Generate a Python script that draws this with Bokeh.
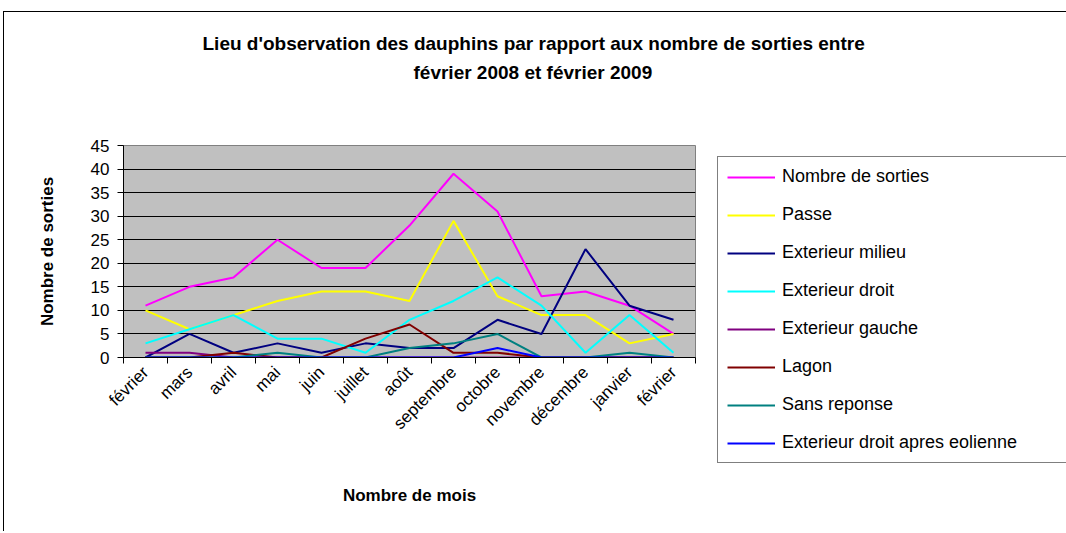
import math
from bokeh.plotting import figure
from bokeh.models import Range1d, FixedTicker, Legend, LegendItem, Title
from bokeh.embed import file_html
from bokeh.resources import INLINE

months = ["février", "mars", "avril", "mai", "juin", "juillet", "août",
          "septembre", "octobre", "novembre", "décembre", "janvier", "février"]
y_ticks = [0, 5, 10, 15, 20, 25, 30, 35, 40, 45]

nombre_sorties = [11, 15, 17, 25, 19, 19, 28, 39, 31, 13, 14, 11, 5]
passe = [10, 6, 9, 12, 14, 14, 12, 29, 13, 9, 9, 3, 5]
exterieur_milieu = [0, 5, 1, 3, 1, 3, 2, 2, 8, 5, 23, 11, 8]
exterieur_droit = [3, 6, 9, 4, 4, 1, 8, 12, 17, 11, 1, 9, 1]
exterieur_gauche = [1, 1, 0, 0, 0, 0, 0, 0, 0, 0, 0, 0, 0]
lagon = [0, 0, 1, 0, 0, 4, 7, 1, 1, 0, 0, 0, 0]
sans_reponse = [0, 0, 0, 1, 0, 0, 2, 3, 5, 0, 0, 1, 0]
exterieur_droit_eolienne = [0, 0, 0, 0, 0, 0, 0, 0, 2, 0, 0, 0, 0]

series = [
    ("Nombre de sorties", nombre_sorties, "#FF00FF"),
    ("Passe", passe, "#FFFF00"),
    ("Exterieur milieu", exterieur_milieu, "#000080"),
    ("Exterieur droit", exterieur_droit, "#00FFFF"),
    ("Exterieur gauche", exterieur_gauche, "#800080"),
    ("Lagon", lagon, "#800000"),
    ("Sans reponse", sans_reponse, "#008080"),
    ("Exterieur droit apres eolienne", exterieur_droit_eolienne, "#0000FF"),
]

FONT = "Liberation Sans"
FW, FH = 572, 212
BL, BT = 123, 145
W, H = 1064, 531

xs = list(range(len(months)))
p = figure(output_backend="svg", toolbar_location=None,
           frame_width=FW, frame_height=FH,
           min_border_left=BL, min_border_top=BT,
           min_border_right=W - BL - FW, min_border_bottom=H - BT - FH,
           x_range=Range1d(-0.5, len(months) - 0.5),
           y_range=Range1d(0, 45),
           background_fill_color="#C0C0C0",
           border_fill_color="white", border_fill_alpha=0,
           outline_line_color="#808080", outline_line_width=1)

# outer chart border (left and top edges) drawn as CSS background lines
p.styles = {
    "background-image": "linear-gradient(#000, #000), linear-gradient(#000, #000)",
    "background-size": "1px 100%, 100% 1px",
    "background-position": "3px 11px, 3px 11px",
    "background-repeat": "no-repeat",
}

p.xgrid.visible = False
p.ygrid.grid_line_color = "black"
p.ygrid.grid_line_width = 1
p.ygrid.ticker = FixedTicker(ticks=y_ticks)

xa = p.xaxis[0]
xa.ticker = FixedTicker(ticks=xs, minor_ticks=[i - 0.5 for i in range(len(months) + 1)])
xa.major_label_overrides = {i: m for i, m in enumerate(months)}
xa.major_label_orientation = math.pi / 4
xa.major_tick_out = 0
xa.major_tick_in = 0
xa.minor_tick_out = 6
xa.minor_tick_in = 0
xa.minor_tick_line_color = "black"
xa.axis_line_color = "black"
xa.major_label_text_font = FONT
xa.major_label_text_font_size = "17px"
xa.major_label_text_color = "black"
xa.major_label_standoff = 6
xa.axis_label = "Nombre de mois"
xa.axis_label_text_font = FONT
xa.axis_label_text_font_size = "17px"
xa.axis_label_text_font_style = "bold"
xa.axis_label_text_color = "black"
xa.axis_label_standoff = 43

ya = p.yaxis[0]
ya.ticker = FixedTicker(ticks=y_ticks)
ya.major_tick_out = 6
ya.major_tick_in = 0
ya.minor_tick_out = 0
ya.minor_tick_in = 0
ya.axis_line_color = "black"
ya.major_label_text_font = FONT
ya.major_label_text_font_size = "17px"
ya.major_label_text_color = "black"
ya.major_label_standoff = 8
ya.axis_label = "Nombre de sorties"
ya.axis_label_text_font = FONT
ya.axis_label_text_font_size = "17px"
ya.axis_label_text_font_style = "bold"
ya.axis_label_text_color = "black"
ya.axis_label_standoff = 31

items = []
for name, vals, color in series:
    r = p.line(xs, vals, line_color=color, line_width=2)
    items.append(LegendItem(label=name, renderers=[r]))

legend = Legend(items=items, location=(22, -106),
                label_text_font=FONT, label_text_font_size="18px",
                label_text_color="black",
                glyph_width=48, glyph_height=20, label_height=20,
                label_width=275,
                label_standoff=7, spacing=17, padding=9, margin=0,
                border_line_color="black", border_line_width=1,
                background_fill_color="white", background_fill_alpha=1)
p.add_layout(legend, "right")

# spacer between plot and title, then title lines (closest to the plot first)
p.add_layout(Title(text=" ", standoff=38, text_font=FONT, text_font_size="19px"), "above")
p.add_layout(Title(text="février 2008 et février 2009", align="left", offset=290,
                   text_font=FONT, text_font_size="19px", text_font_style="bold",
                   text_color="black", standoff=4), "above")
p.add_layout(Title(text="Lieu d'observation des dauphins par rapport aux nombre de sorties entre",
                   align="left", offset=79,
                   text_font=FONT, text_font_size="19px", text_font_style="bold",
                   text_color="black", standoff=8), "above")

open("out.html", "w").write(file_html(p, INLINE))
